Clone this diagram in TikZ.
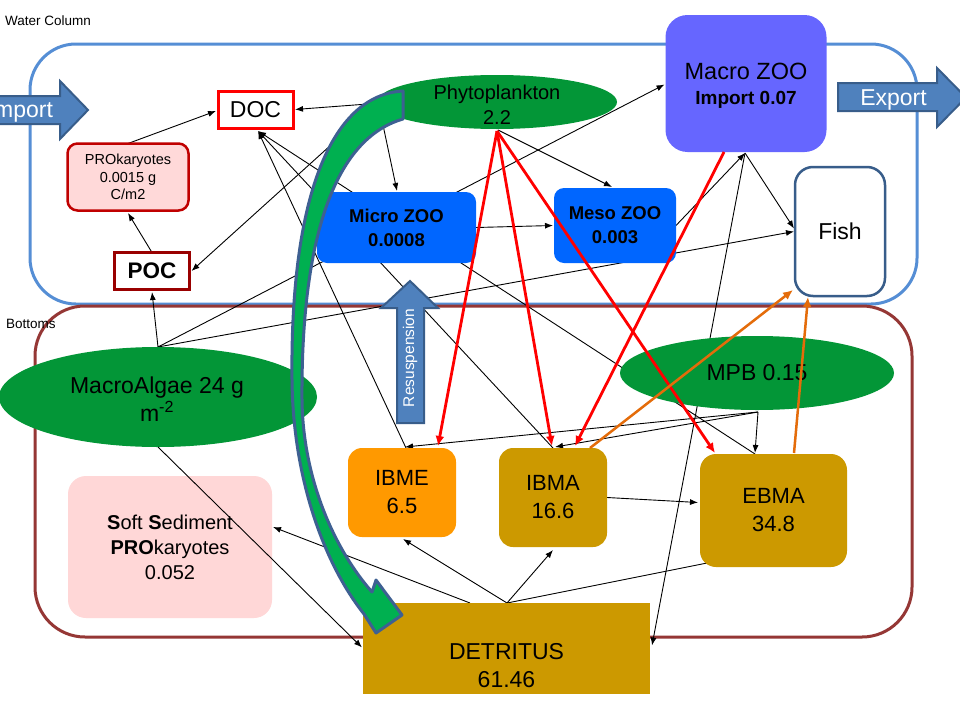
\documentclass[tikz,border=0pt]{standalone}
\usepackage{fontspec}
\setmainfont{Liberation Sans}
\usetikzlibrary{arrows.meta,calc,shapes.geometric}
\pgfdeclarelayer{boxes}
\pgfdeclarelayer{lines}
\pgfsetlayers{boxes,lines,main}
\newcommand\myfs[2]{\fontsize{#1}{#2}\selectfont}
\definecolor{wcblue}{RGB}{85,142,213}
\definecolor{botred}{RGB}{149,55,53}
\definecolor{docred}{RGB}{255,0,0}
\definecolor{pocred}{RGB}{153,0,0}
\definecolor{prokfill}{RGB}{255,217,217}
\definecolor{prokline}{RGB}{192,0,0}
\definecolor{algae}{RGB}{3,150,55}
\definecolor{zooblue}{RGB}{0,102,255}
\definecolor{macrozoo}{RGB}{102,102,255}
\definecolor{fishline}{RGB}{56,93,138}
\definecolor{ibmecol}{RGB}{255,153,0}
\definecolor{goldcol}{RGB}{204,153,0}
\definecolor{softpink}{RGB}{255,215,215}
\definecolor{arrowfill}{RGB}{79,129,189}
\definecolor{arrowline}{RGB}{56,93,138}
\definecolor{bigfill}{RGB}{0,176,80}
\definecolor{bigline}{RGB}{62,96,146}
\definecolor{orangeln}{RGB}{228,108,10}
\definecolor{redln}{RGB}{255,0,0}
\tikzset{
  blk/.style={line width=0.9pt, -{Latex[length=8pt,width=6pt]}},
  plainln/.style={line width=0.9pt},
  redarr/.style={line width=2.8pt, redln, -{Latex[length=10pt,width=9pt]}},
  orgarr/.style={line width=2.5pt, orangeln, -{Latex[length=10pt,width=9pt]}},
  nbox/.style={rectangle, inner sep=0pt, outer sep=0pt, align=center},
  nell/.style={ellipse, inner sep=0pt, outer sep=0pt, fill=algae},
  txt/.style={inner sep=0pt, outer sep=0pt, align=center},
  wtxt/.style={inner sep=0pt, outer sep=0pt, text=white, font=\myfs{23}{28}},
  blockarr/.style={fill=arrowfill, draw=arrowline, line width=2pt, line join=miter},
  bigarr/.style={fill=bigfill, draw=bigline, line width=3pt, line join=round},
  region/.style={line width=3pt},
  regionlabel/.style={inner sep=0pt, font=\myfs{13.5}{16}, anchor=base west},
}
\begin{document}
\begin{tikzpicture}[x=1pt,y=-1pt]
\useasboundingbox (0,0) rectangle (960,720);
\begin{pgfonlayer}{boxes}
\fill[white] (0,0) rectangle (960,720);
\draw[region, draw=wcblue, rounded corners=46] (30,44) rectangle (917,304);
\draw[region, draw=botred, rounded corners=50] (35,306) rectangle (912,637);
\end{pgfonlayer}
\node[regionlabel] (WCl) at (5,25) {Water Column};
\node[regionlabel] (BTl) at (6,328) {Bottoms};

% nodes
\node[nbox, draw=docred, line width=3pt, fill=white, minimum width=75, minimum height=37, font=\myfs{23}{28}] (DOC) at (255.5,109.5) {DOC};
\node[nbox, draw=prokline, line width=2.5pt, fill=prokfill, rounded corners=10, minimum width=121, minimum height=67, font=\myfs{14.5}{17.5}] (PROk) at (128,177) {PROkaryotes\\0.0015 g\\C/m2};
\node[nbox, draw=pocred, line width=3pt, fill=white, minimum width=75, minimum height=37, font=\myfs{22.5}{28}\bfseries] (POC) at (152,271) {POC};
\node[nell, minimum width=240, minimum height=54] (Phyto) at (497,102) {};
\node[txt, font=\myfs{20}{25}] (PhytoT) at (497,104.5) {Phytoplankton\\2.2};
\node[nbox, fill=macrozoo, rounded corners=22, minimum width=161, minimum height=137] (MacroZ) at (746,83.5) {};
\node[txt, font=\myfs{23.5}{25}] (MacroZT) at (746,85.5) {Macro ZOO\\{\myfs{19}{25}\bfseries Import 0.07}};
\node[nbox, draw=fishline, line width=2.5pt, fill=white, rounded corners=18, minimum width=90, minimum height=129, font=\myfs{23}{28}] (Fish) at (840,231.5) {Fish};
\node[nbox, fill=zooblue, rounded corners=10, minimum width=159, minimum height=71, font=\myfs{18.5}{24}\bfseries] (MicroZ) at (396.5,227.5) {Micro ZOO\\0.0008};
\node[nbox, fill=zooblue, rounded corners=10, minimum width=122, minimum height=75, font=\myfs{18.5}{24}\bfseries] (MesoZ) at (615,225.5) {Meso ZOO\\0.003};
\node[nell, minimum width=318, minimum height=100] (MAlg) at (158,397) {};
\node[txt, font=\myfs{23}{28}] (MAlgT) at (157,399) {MacroAlgae 24 g\\m\textsuperscript{-2}};
\node[nell, minimum width=274, minimum height=74] (MPB) at (757,373) {};
\node[txt, font=\myfs{23}{28}] (MPBT) at (757,373) {MPB 0.15};
\node[nbox, fill=ibmecol, rounded corners=14, minimum width=108, minimum height=89, font=\myfs{22}{28}] (IBME) at (402,492.5) {IBME\\6.5};
\node[nbox, fill=goldcol, rounded corners=14, minimum width=108, minimum height=99, font=\myfs{22}{28}] (IBMA) at (553,497.5) {IBMA\\16.6};
\node[nbox, fill=goldcol, rounded corners=16, minimum width=147, minimum height=113, font=\myfs{22}{28}] (EBMA) at (773.5,510.5) {EBMA\\34.8};
\node[nbox, fill=goldcol, minimum width=287, minimum height=91] (DET) at (506.5,648.5) {};
\node[txt, font=\myfs{23}{28}] (DETT) at (506.5,666) {DETRITUS\\61.46};
\node[nbox, fill=softpink, rounded corners=18, minimum width=204, minimum height=142, font=\myfs{20}{25}] (SoftSed) at (170,547) {\textbf{S}oft \textbf{S}ediment\\\textbf{PRO}karyotes\\0.052};

% black connectors below the nodes
\begin{pgfonlayer}{lines}
\draw[blk] ($(Phyto.west)+(4,1)$) -- ($(DOC.east)+(2,0)$);
\draw[blk] ($(Phyto.center)+(-114,23)$) -- ($(MicroZ.north)+(0.5,-1)$);
\draw[blk] ($(Phyto.south)+(1,1)$) -- ($(MesoZ.north)+(-3,-1)$);
\draw[blk] ($(Phyto.west)+(6,-4)$) -- ($(POC.east)+(2,0)$);
\draw[blk] (PROk.north) -- ($(DOC.west)+(-2,1.5)$);
\draw[blk] (POC.north) -- ($(PROk.south)+(0,2.5)$);
\draw[blk] (MAlg.north) -- ($(POC.south)+(0,2.5)$);
\draw[blk] (MAlg.north) -- ($(MacroZ.west)+(-1,1)$);
\draw[blk] (MAlg.north) -- ($(Fish.west)+(-1,0)$);
\coordinate (docin) at ($(DOC.south)+(2.5,3)$);
\draw[blk] ($(IBME.north)+(4,0)$) -- (docin);
\draw[blk] (IBMA.north) -- (docin);
\draw[blk] ($(EBMA.north)+(-18.5,0)$) -- (docin);
\draw[blk] (MicroZ.east) -- ($(MesoZ.west)+(-1,0)$);
\coordinate (mzin) at ($(MacroZ.south)+(-1,1)$);
\draw[blk] (MesoZ.east) -- (mzin);
\draw[blk] (mzin) -- ($(Fish.west)+(-1,-3)$);
\draw[blk] (mzin) -- ($(DET.east)+(2,-3)$);
\coordinate (mpbout) at ($(MPB.south)+(1,2)$);
\draw[blk] (mpbout) -- ($(IBME.north)+(3,-1)$);
\draw[blk] (mpbout) -- ($(IBMA.north)+(2,-1)$);
\draw[blk] (mpbout) -- ($(EBMA.north)+(-18.5,-1)$);
\coordinate (detA) at ($(DET.north)+(-36.5,0)$);
\coordinate (detB) at ($(DET.north)+(0.5,0)$);
\draw[blk] (detA) -- ($(SoftSed.east)+(1,-20)$);
\draw[blk] (detB) -- ($(IBME.south)+(1,2)$);
\draw[blk] (detB) -- ($(IBMA.south)+(0,3)$);
\draw[plainln] (detB) -- ($(EBMA.south west)+(7,-4)$);
\draw[blk] (IBMA.east) -- ($(EBMA.west)+(-2,-8)$);
\end{pgfonlayer}
% this one passes over the sediment box
\draw[blk] (MAlg.south) -- ($(DET.west)+(-1,-1)$);

% red and orange connectors above the nodes
\coordinate (phs) at ($(Phyto.south)+(0,2)$);
\draw[redarr] (phs) -- ($(IBME.north)+(36,-2)$);
\draw[redarr] (phs) -- ($(IBMA.north)+(-1,-2)$);
\draw[redarr] (phs) -- ($(EBMA.north)+(-58.5,-1)$);
\draw[redarr] ($(MacroZ.south)+(-22,0)$) -- ($(IBMA.north)+(22,-2)$);
\draw[orgarr] ($(IBMA.north)+(37,0)$) -- ($(Fish.south west)+(-2,-6)$);
\draw[orgarr] ($(EBMA.north)+(20.5,-1)$) -- ($(Fish.south)+(-32,1)$);

% block arrows
\draw[blockarr] (-30,96) -- (60,96) -- (60,81) -- (88,110) -- (60,139) -- (60,124) -- (-30,124) -- cycle;
\node[wtxt, anchor=east] (ImportT) at (53,112) {Import};
\draw[blockarr] (838,83) -- (937,83) -- (937,68) -- (966,97.5) -- (937,127) -- (937,111) -- (838,111) -- cycle;
\node[wtxt] (ExportT) at (893.5,100) {Export};
\draw[blockarr] (397,423) -- (397,308) -- (381,308) -- (410,281) -- (438,308) -- (424,308) -- (424,423) -- cycle;
\node[wtxt, font=\myfs{15.5}{18}, rotate=90] (ResT) at (410,358) {Resuspension};

% big curved arrow from phytoplankton to detritus
\draw[bigarr] (403,91) .. controls (330,95) and (290,200) .. (292,380)
  .. controls (293,480) and (325,565) .. (364,614) -- (376,633) -- (402,615) -- (376,580) -- (372,592)
  .. controls (335,550) and (303,480) .. (302,400)
  .. controls (301,250) and (330,140) .. (403,119) -- cycle;
\end{tikzpicture}
\end{document}
